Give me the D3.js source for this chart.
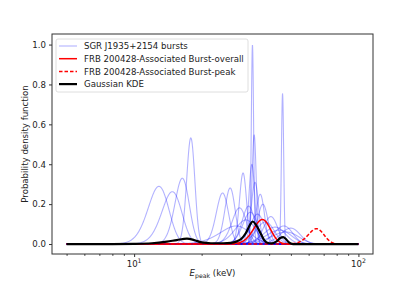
<!DOCTYPE html>
<html>
<head>
<meta charset="utf-8">
<script src="https://cdn.jsdelivr.net/npm/d3@7"></script>
<style>
  body { margin: 0; background: #fff; }
  svg { font-family: "DejaVu Sans", sans-serif; }
</style>
</head>
<body>
<svg></svg>
<script>
/* burst Epeak (keV) and 1-sigma errors */
var burstEpeak = [12.9, 14.8, 16.4, 17.9, 24.8, 26.8, 29.5, 30.6, 32.4, 33.7,
                  33.5, 34.3, 34.6, 36.5, 40.7, 45.9, 49.9, 35.5, 38.5, 42.5,
                  44.5, 47.5, 31.5, 28.5, 37.5, 33.0, 46.5];
var burstSigma = [1.38, 1.52, 1.21, 0.75, 1.56, 1.42, 2.2, 1.12, 2.1, 0.40,
                  1.0, 0.73, 1.29, 1.6, 2.9, 0.53, 5.0, 2.66, 3.6, 4.7,
                  5.7, 6.6, 3.3, 4.4, 2.0, 2.5, 4.4];

/* FRB 200428-associated burst: overall and peak */
var frbEpeak = [37.3, 65.0];
var frbSigma = [3.25, 5.2];

/* Gaussian KDE */
var kdeE = [5, 8, 10, 12, 14, 15.5, 17.2, 18.5, 20, 22, 25, 27, 28.5, 30, 31.5,
            32.8, 33.8, 35, 36.5, 38, 39.5, 41, 43, 44.8, 46.2, 47.5, 49, 50.5, 52, 100];
var kdeP = [0, 0, 0.001, 0.004, 0.012, 0.02, 0.027, 0.02, 0.008, 0.004, 0.004, 0.006, 0.012,
            0.025, 0.055, 0.095, 0.113, 0.095, 0.057, 0.02, 0.005, 0.003, 0.012, 0.03,
            0.035, 0.025, 0.008, 0.001, 0, 0];

var yTicks = [0.0, 0.2, 0.4, 0.6, 0.8, 1.0];
var xTicks = [10, 100];
var legendLabels = ['SGR J1935+2154 bursts', 'FRB 200428-Associated Burst-overall',
                    'FRB 200428-Associated Burst-peak', 'Gaussian KDE'];

/* svg setting */
var svgWidth = 415;
var svgHeight = 291;
var margin = {top: 34, right: 42, bottom: 37, left: 52};
var width = svgWidth - margin.left - margin.right;
var height = svgHeight - margin.top - margin.bottom;
var fontSize = 8.6;

var svg = d3.select('svg')
    .attr('width', svgWidth)
    .attr('height', svgHeight);

var xmin = 5, xmax = 100;
var lpad = (Math.log10(xmax) - Math.log10(xmin)) * 0.05;
var x = d3.scaleLog()
    .domain([Math.pow(10, Math.log10(xmin) - lpad), Math.pow(10, Math.log10(xmax) + lpad)])
    .range([margin.left, margin.left + width]);
var y = d3.scaleLinear()
    .domain([-0.05, 1.053])
    .range([margin.top + height, margin.top]);

// evaluation grid
var grid = d3.range(0, 3001).map(function(i){ return xmin + (xmax - xmin) * i / 3000; });

function normalPdf(mu, s){
  return grid.map(function(e){
    return [e, Math.exp(-0.5 * Math.pow((e - mu) / s, 2)) / (s * Math.sqrt(2 * Math.PI))];
  });
}

var line = d3.line()
    .x(function(d){ return x(d[0]); })
    .y(function(d){ return y(d[1]); });

var plot = svg.append('g');

burstEpeak.forEach(function(mu, i){
  plot.append('path')
      .attr('d', line(normalPdf(mu, burstSigma[i])))
      .attr('fill', 'none')
      .attr('stroke', 'blue')
      .attr('stroke-opacity', 0.3)
      .attr('stroke-width', 1.1);
});

plot.append('path')
    .attr('d', line(normalPdf(frbEpeak[0], frbSigma[0])))
    .attr('fill', 'none')
    .attr('stroke', 'red')
    .attr('stroke-width', 1.5);

plot.append('path')
    .attr('d', line(normalPdf(frbEpeak[1], frbSigma[1])))
    .attr('fill', 'none')
    .attr('stroke', 'red')
    .attr('stroke-width', 1.5)
    .attr('stroke-dasharray', '3.5,2');

var kdeLine = d3.line()
    .x(function(d){ return x(d[0]); })
    .y(function(d){ return y(d[1]); })
    .curve(d3.curveMonotoneX);

plot.append('path')
    .attr('d', kdeLine(kdeE.map(function(e, i){ return [e, kdeP[i]]; })))
    .attr('fill', 'none')
    .attr('stroke', 'black')
    .attr('stroke-width', 2.2);

/* axes */
var yAxis = svg.append('g')
    .attr('transform', 'translate(' + margin.left + ',0)')
    .call(d3.axisLeft(y).tickValues(yTicks).tickFormat(d3.format('.1f')).tickSizeOuter(0).tickSize(3).tickPadding(3));

var minorTicks = [];
[1, 10].forEach(function(dec){
  for (var k = 2; k <= 9; k++) {
    var v = k * dec;
    if (v > x.domain()[0] && v < x.domain()[1]) minorTicks.push(v);
  }
});

var xAxis = svg.append('g')
    .attr('transform', 'translate(0,' + (margin.top + height) + ')')
    .call(d3.axisBottom(x).tickValues(xTicks).tickFormat('').tickSizeOuter(0).tickSize(3));

svg.append('g')
    .attr('transform', 'translate(0,' + (margin.top + height) + ')')
    .call(d3.axisBottom(x).tickValues(minorTicks).tickFormat('').tickSizeOuter(0).tickSize(1.8))
    .select('.domain').remove();

svg.selectAll('.tick line').attr('stroke', '#333');
svg.selectAll('.domain').remove();
yAxis.selectAll('text').attr('font-size', fontSize).attr('fill', '#222').attr('font-family', 'DejaVu Sans');

// x tick labels with exponent
xTicks.forEach(function(v){
  var t = svg.append('text')
      .attr('x', x(v))
      .attr('y', margin.top + height + 13)
      .attr('text-anchor', 'middle')
      .attr('font-size', fontSize)
      .attr('fill', '#222');
  t.append('tspan').text('10');
  t.append('tspan').attr('dy', -4).attr('font-size', 6.2).text(Math.round(Math.log10(v)));
});

// frame
svg.append('rect')
    .attr('x', margin.left)
    .attr('y', margin.top)
    .attr('width', width)
    .attr('height', height)
    .attr('fill', 'none')
    .attr('stroke', '#333')
    .attr('stroke-width', 1);

/* labels */
svg.append('text')
    .attr('transform', 'translate(28,' + (margin.top + height / 2) + ') rotate(-90)')
    .attr('text-anchor', 'middle')
    .attr('font-size', fontSize)
    .attr('fill', '#222')
    .text('Probability density function');

var xl = svg.append('text')
    .attr('x', margin.left + width / 2)
    .attr('y', 276)
    .attr('text-anchor', 'middle')
    .attr('font-size', fontSize)
    .attr('fill', '#222');
xl.append('tspan').attr('font-style', 'italic').text('E');
xl.append('tspan').attr('dy', 2).attr('font-size', 6.2).text('peak');
xl.append('tspan').attr('dy', -2).text(' (keV)');

/* legend */
var legend = svg.append('g');
legend.append('rect')
    .attr('x', 56).attr('y', 39)
    .attr('width', 192).attr('height', 53)
    .attr('rx', 2)
    .attr('fill', 'white').attr('fill-opacity', 0.8)
    .attr('stroke', '#d6d6d6').attr('stroke-width', 0.8);

var legendStyles = [
  {stroke: 'blue', opacity: 0.3, width: 1.1, dash: null},
  {stroke: 'red', opacity: 1, width: 1.5, dash: null},
  {stroke: 'red', opacity: 1, width: 1.5, dash: '3.5,2'},
  {stroke: 'black', opacity: 1, width: 2.2, dash: null}
];
legendLabels.forEach(function(lab, i){
  var ly = 46 + i * 12.7;
  legend.append('line')
      .attr('x1', 59).attr('x2', 77)
      .attr('y1', ly).attr('y2', ly)
      .attr('stroke', legendStyles[i].stroke)
      .attr('stroke-opacity', legendStyles[i].opacity)
      .attr('stroke-width', legendStyles[i].width)
      .attr('stroke-dasharray', legendStyles[i].dash);
  legend.append('text')
      .attr('x', 84).attr('y', ly + 3.1)
      .attr('font-size', fontSize)
      .attr('fill', '#222')
      .text(lab);
});
</script>
</body>
</html>
